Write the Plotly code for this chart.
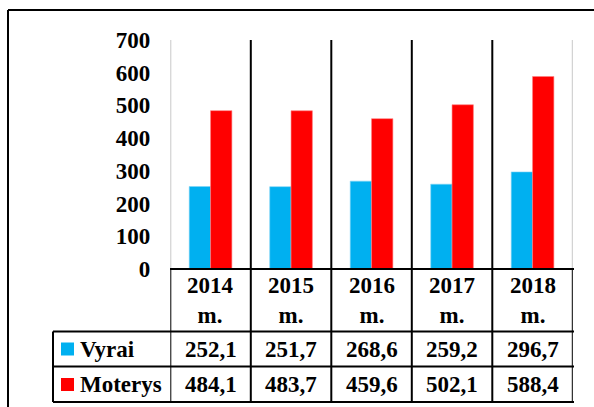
import plotly.graph_objects as go

years = ['2014 m.', '2015 m.', '2016 m.', '2017 m.', '2018 m.']
vyrai = [252.1, 251.7, 268.6, 259.2, 296.7]
moterys = [484.1, 483.7, 459.6, 502.1, 588.4]
series_names = ['Vyrai', 'Moterys']
colors = ['#00B0F0', '#FF0000']

W, H = 594, 407
FONT = 'Liberation Serif'


def py(px):
    # pixel row -> paper fraction
    return (H - px) / H


def pxx(px):
    return px / W


x_idx = list(range(len(years)))

fig = go.Figure()
fig.add_trace(go.Bar(x=x_idx, y=vyrai, name=series_names[0],
                     marker=dict(color=colors[0], line=dict(color='#7fd4f5', width=0.6))))
fig.add_trace(go.Bar(x=x_idx, y=moterys, name=series_names[1],
                     marker=dict(color=colors[1], line=dict(color='#ff8080', width=0.6))))

fig.update_layout(
    width=W, height=H, autosize=False,
    margin=dict(l=0, r=0, t=0, b=0, pad=0, autoexpand=False),
    paper_bgcolor='white', plot_bgcolor='white',
    barmode='group', bargap=0.47, bargroupgap=0,
    showlegend=False,
    font=dict(family=FONT, color='black', size=23),
    xaxis=dict(domain=[pxx(170.3), pxx(572.8)], range=[-0.5, 4.5], automargin=False,
               showticklabels=False, showgrid=False, zeroline=False, ticks=''),
    yaxis=dict(domain=[py(269), py(40)], range=[0, 700], dtick=100, automargin=False,
               showgrid=False, zeroline=False, ticks='', showline=False,
               tickfont=dict(family=FONT, size=23, color='black', weight='bold'),
               ticklabelstandoff=19),
)

shapes = []
blk = dict(color='black', width=2)
gry = dict(color='#c8c8c8', width=2)

# outer frame (top and left only, as cropped in the original)
shapes.append(dict(type='line', xref='paper', yref='paper', x0=pxx(8), x1=1.0,
                   y0=py(10), y1=py(10), line=blk))
shapes.append(dict(type='line', xref='paper', yref='paper', x0=pxx(8), x1=pxx(8),
                   y0=py(10), y1=0, line=blk))

# category separators running down into the data table
n = len(years)
for k in range(n + 1):
    xb = k - 0.5
    if 0 < k < n:
        shapes.append(dict(type='line', xref='x', yref='paper', x0=xb, x1=xb,
                           y0=py(40), y1=py(402), line=blk))
    else:
        shapes.append(dict(type='line', xref='x', yref='paper', x0=xb, x1=xb,
                           y0=py(40), y1=py(269), line=gry))
        shapes.append(dict(type='line', xref='x', yref='paper', x0=xb, x1=xb,
                           y0=py(269), y1=py(402), line=blk))

# table horizontal lines
shapes.append(dict(type='line', xref='paper', yref='paper', x0=pxx(170), x1=pxx(574),
                   y0=py(269), y1=py(269), line=blk))
for yy in [331.5, 366.5, 402]:
    shapes.append(dict(type='line', xref='paper', yref='paper', x0=pxx(53), x1=pxx(574),
                       y0=py(yy), y1=py(yy), line=blk))
shapes.append(dict(type='line', xref='paper', yref='paper', x0=pxx(53), x1=pxx(53),
                   y0=py(331.5), y1=py(402), line=blk))

# legend keys in the table
row_centers = [349, 384.5]
for c, yc in zip(colors, row_centers):
    shapes.append(dict(type='rect', xref='paper', yref='paper',
                       x0=pxx(61), x1=pxx(74), y0=py(yc + 6.5), y1=py(yc - 6.5),
                       fillcolor=c, line=dict(width=0)))

fig.update_layout(shapes=shapes)

ann = []
for i, yr in enumerate(years):
    y_, m_ = yr.split(' ')
    ann.append(dict(xref='x', yref='paper', x=i, y=py(300), text='<b>' + y_ + '<br>' + m_ + '</b>',
                    showarrow=False, font=dict(family=FONT, size=23, color='black'),
                    xanchor='center', yanchor='middle'))
for name, vals, yc in zip(series_names, [vyrai, moterys], row_centers):
    ann.append(dict(xref='paper', yref='paper', x=pxx(78), y=py(yc), text='<b>' + name + '</b>',
                    showarrow=False, font=dict(family=FONT, size=23, color='black'),
                    xanchor='left', yanchor='middle'))
    for i, v in enumerate(vals):
        ann.append(dict(xref='x', yref='paper', x=i, y=py(yc),
                        text='<b>' + f'{v:.1f}'.replace('.', ',') + '</b>',
                        showarrow=False, font=dict(family=FONT, size=23, color='black'),
                        xanchor='center', yanchor='middle'))
fig.update_layout(annotations=ann)

pin = ("document.body.style.margin='0';"
       "var gd=document.getElementById('{plot_id}');"
       "gd.style.position='absolute';gd.style.left='0px';gd.style.top='0px';")
fig.write_html('out.html', post_script=pin, config={'displayModeBar': False, 'responsive': False})
